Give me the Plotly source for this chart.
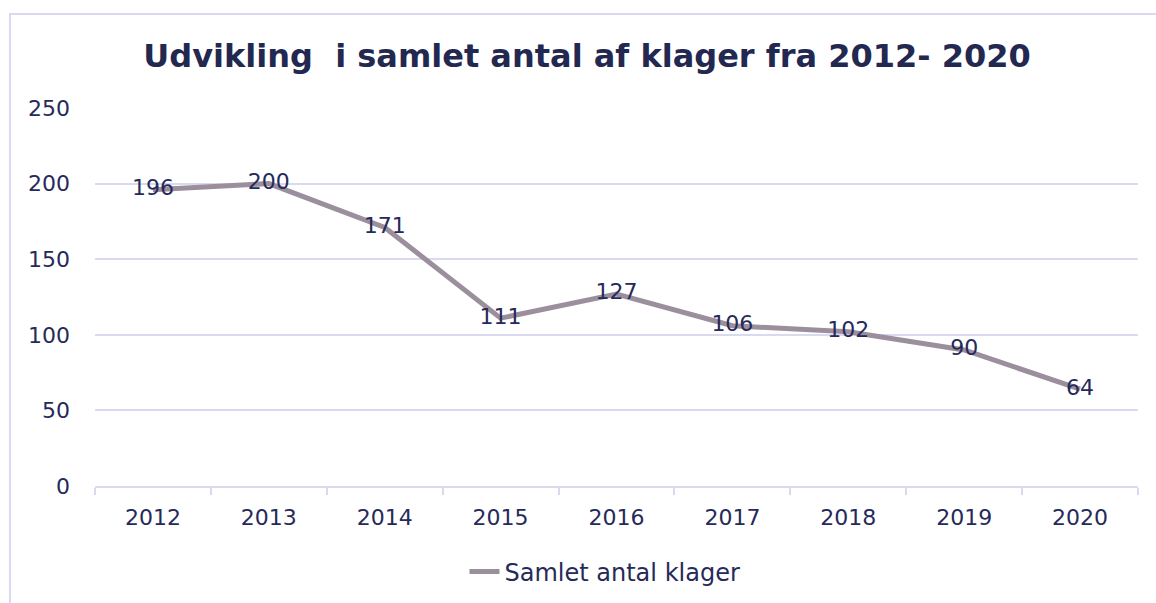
import plotly.graph_objects as go

years = ["2012", "2013", "2014", "2015", "2016", "2017", "2018", "2019", "2020"]
klager = [196, 200, 171, 111, 127, 106, 102, 90, 64]
series_name = "Samlet antal klager"
title_text = "Udvikling\u00a0 i samlet antal af klager fra 2012- 2020"
y_ticks = [0, 50, 100, 150, 200, 250]
y_grid = [50, 100, 150, 200]

W, H = 1156, 603
L, R, T, B = 95, 1138, 108, 486

navy = "#262a5a"
lav = "#d9daf0"
font = "Verdana, DejaVu Sans, sans-serif"

fig = go.Figure()
fig.add_trace(go.Scatter(
    x=years, y=klager, mode="lines+text", name=series_name,
    text=[str(v) for v in klager], textposition="middle center",
    textfont=dict(family=font, size=22, color=navy),
    line=dict(color="#9b8f9d", width=5),
    cliponaxis=False,
))
fig.add_trace(go.Scatter(x=years, y=klager, yaxis="y2", mode="lines",
                         line=dict(width=0), showlegend=False, hoverinfo="skip"))

def px(x):
    return (x - L) / (R - L)

def py(y):
    return (B - y) / (B - T)

fig.update_layout(
    width=W, height=H,
    margin=dict(l=L, r=W - R, t=T, b=H - B),
    paper_bgcolor="white", plot_bgcolor="white",
    font=dict(family=font, size=22, color=navy),
    title=dict(text=title_text, x=587 / W, xanchor="center", y=1 - 56 / H, yanchor="middle",
               xref="container", yref="container",
               font=dict(family=font, size=32, color="#222850", weight="bold")),
    xaxis=dict(type="category", range=[-0.5, 8.5], showgrid=False,
               showline=True, linecolor=lav, linewidth=2,
               ticks="outside", tickson="boundaries", ticklen=7, tickcolor=lav, tickwidth=2,
               tickfont=dict(size=22, color=navy), ticklabelstandoff=11),
    yaxis=dict(range=[0, 250], tickvals=y_ticks, showgrid=True, gridcolor="#f4f4f8", gridwidth=1,
               zeroline=False, showline=False, ticks="", tickfont=dict(size=22, color=navy),
               ticklabelstandoff=24),
    yaxis2=dict(range=[0, 250], tickvals=y_grid, overlaying="y", showgrid=True, gridcolor=lav,
                gridwidth=1.5, showticklabels=False, zeroline=False, showline=False, ticks=""),
    showlegend=True,
    legend=dict(orientation="h", x=605 / W, xanchor="center", xref="container",
                y=1 - 572 / H, yanchor="middle", yref="container",
                font=dict(size=24, color=navy)),
    shapes=[dict(type="rect", xref="paper", yref="paper",
                 x0=px(10), x1=px(1170), y0=py(620), y1=py(14),
                 line=dict(color=lav, width=2), layer="below")],
)

fig.write_html("out.html", config={"displayModeBar": False},
               post_script="document.body.style.margin='0';")
